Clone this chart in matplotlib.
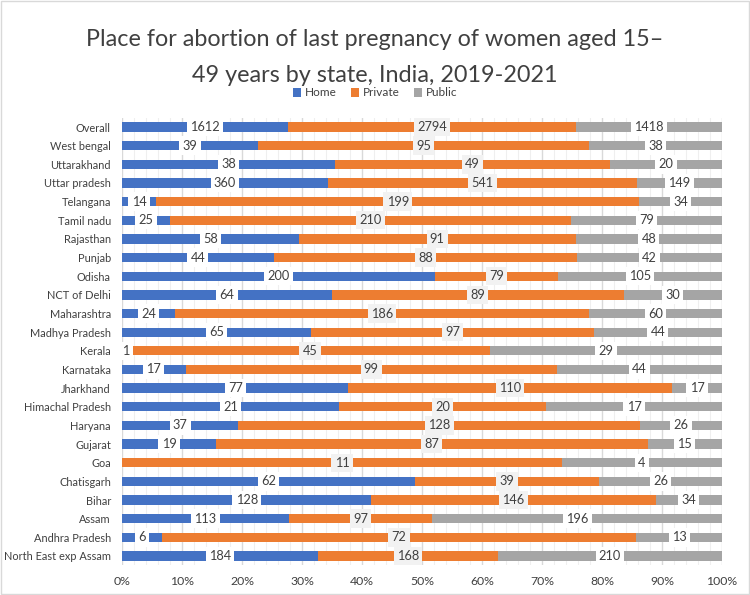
import matplotlib
matplotlib.use("Agg")
import matplotlib.pyplot as plt
import numpy as np
from matplotlib.patches import Rectangle

plt.rcParams['font.family'] = ['Lato', 'DejaVu Sans']

states = ["North East exp Assam", "Andhra Pradesh", "Assam", "Bihar", "Chatisgarh", "Goa",
          "Gujarat", "Haryana", "Himachal Pradesh", "Jharkhand", "Karnataka", "Kerala",
          "Madhya Pradesh", "Maharashtra", "NCT of Delhi", "Odisha", "Punjab", "Rajasthan",
          "Tamil nadu", "Telangana", "Uttar pradesh", "Uttarakhand", "West bengal", "Overall"]
home = [184, 6, 113, 128, 62, 0, 19, 37, 21, 77, 17, 1, 65, 24, 64, 200, 44, 58, 25, 14, 360, 38, 39, 1612]
private = [168, 72, 97, 146, 39, 11, 87, 128, 20, 110, 99, 45, 97, 186, 89, 79, 88, 91, 210, 199, 541, 49, 95, 2794]
public = [210, 13, 196, 34, 26, 4, 15, 26, 17, 17, 44, 29, 44, 60, 30, 105, 42, 48, 79, 34, 149, 20, 38, 1418]
series_names = ["Home", "Private", "Public"]
colors = ["#4472c4", "#ed7d31", "#a5a5a5"]
box_colors = ["white", "#f2f2f2", "white"]

W, H = 750, 595
fig = plt.figure(figsize=(W/100, H/100), dpi=100)
fig.patches.append(Rectangle((0.0015, 0.002), 0.997, 0.996, transform=fig.transFigure,
                             fill=False, edgecolor="#d9d9d9", linewidth=1.0))
ax = fig.add_axes([122/W, 1-565.3/H, 600/W, (565.3-117.7)/H])

data = np.array([home, private, public], dtype=float)
totals = data.sum(axis=0)
pct = data / totals * 100
y = np.arange(len(states))
left = np.zeros(len(states))
for i in range(3):
    ax.barh(y, pct[i], left=left, height=0.5, color=colors[i], label=series_names[i], zorder=3)
    for j in range(len(states)):
        v = data[i, j]
        if v == 0:
            continue
        cx = left[j] + pct[i, j] / 2
        ax.text(cx, y[j], f"{int(v)}", ha="center", va="center", fontsize=9.2, color="#404040",
                zorder=5, bbox=dict(boxstyle="square,pad=0.25", facecolor=box_colors[i], edgecolor="none"))
    left += pct[i]

ax.set_xlim(0, 100)
ax.set_ylim(-0.5, len(states) - 0.5)
ax.set_yticks(y)
ax.set_yticklabels(states, fontsize=7.9, color="#404040")
ax.set_xticks(np.arange(0, 101, 10))
ax.set_xticklabels([f"{t}%" for t in range(0, 101, 10)], fontsize=8.8, color="#404040")
ax.set_xticks(np.arange(0, 101, 2), minor=True)
ax.grid(axis="x", which="major", color="#d9d9d9", linewidth=1.0, zorder=0)
ax.grid(axis="x", which="minor", color="#efefef", linewidth=0.8, zorder=0)
ax.tick_params(axis="both", which="both", length=0)
ax.tick_params(axis="x", pad=8)
ax.tick_params(axis="y", pad=8)
for s in ax.spines.values():
    s.set_visible(False)

fig.text(0.5, 1-40/H, "Place for abortion of last pregnancy of women aged 15–", ha="center", va="center",
         fontsize=16.8, color="#404040")
fig.text(0.5, 1-75/H, "49 years by state, India, 2019-2021", ha="center", va="center",
         fontsize=16.8, color="#404040")

leg = fig.legend(loc="center", bbox_to_anchor=(0.5, 1-93/H), ncol=3, frameon=False, fontsize=8.5,
                 handlelength=0.7, handleheight=0.7, handletextpad=0.3, columnspacing=1.2,
                 labelcolor="#404040")

fig.savefig("out.png", dpi=100)
